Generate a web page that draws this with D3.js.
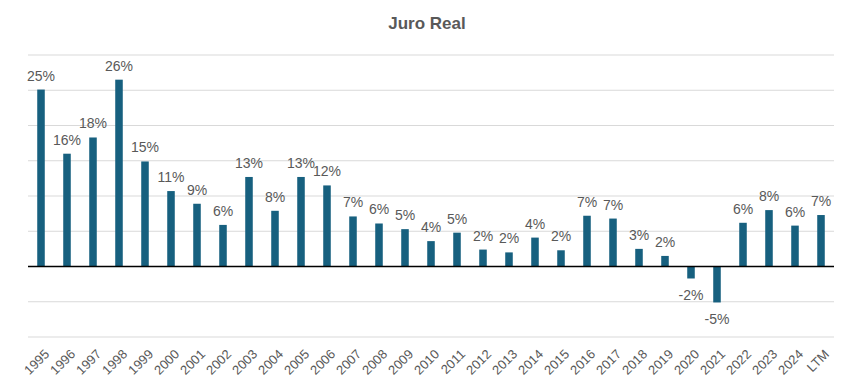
<!DOCTYPE html>
<html><head><meta charset="utf-8">
<script src="https://cdn.jsdelivr.net/npm/d3@7"></script>
<style>body{margin:0;background:#fff;}svg{display:block;font-family:"Liberation Sans",Arial,sans-serif;}</style>
</head><body>
<svg id="chart" width="854" height="391"></svg>
<script>
const title = "Juro Real";
const categories = ["1995","1996","1997","1998","1999","2000","2001","2002","2003","2004","2005","2006","2007","2008","2009","2010","2011","2012","2013","2014","2015","2016","2017","2018","2019","2020","2021","2022","2023","2024","LTM"];
const values = [25.1,16.0,18.3,26.5,14.9,10.7,8.9,5.9,12.7,7.9,12.7,11.5,7.1,6.1,5.3,3.6,4.8,2.4,2.0,4.1,2.3,7.2,6.8,2.5,1.5,-1.7,-5.1,6.2,8.0,5.8,7.3];
const labels = ["25%","16%","18%","26%","15%","11%","9%","6%","13%","8%","13%","12%","7%","6%","5%","4%","5%","2%","2%","4%","2%","7%","7%","3%","2%","-2%","-5%","6%","8%","6%","7%"];
const gridTicks = [-10,-5,0,5,10,15,20,25,30];

const svg = d3.select("#chart");
const x = d3.scaleBand().domain(categories).range([28, 834]).paddingInner(0.71).paddingOuter(0.355);
const y = d3.scaleLinear().domain([-10, 30]).range([337, 55]);

svg.append("text").attr("x", 427).attr("y", 29).attr("text-anchor","middle")
  .attr("font-size", 17).attr("font-weight","bold").attr("fill","#595959").text(title);

svg.append("g").selectAll("line").data(gridTicks.filter(d=>d!==0)).join("line")
  .attr("x1",28).attr("x2",834).attr("y1",d=>y(d)).attr("y2",d=>y(d))
  .attr("stroke","#d9d9d9").attr("stroke-width",1.2);

svg.append("g").selectAll("rect").data(values).join("rect")
  .attr("x",(d,i)=>x(categories[i])).attr("width",x.bandwidth())
  .attr("y",d=>y(Math.max(0,d))).attr("height",d=>Math.abs(y(d)-y(0)))
  .attr("fill","#17607f");

svg.append("line").attr("x1",28).attr("x2",834).attr("y1",y(0)).attr("y2",y(0))
  .attr("stroke","#000").attr("stroke-width",1.5);

svg.append("g").selectAll("text").data(values).join("text")
  .attr("x",(d,i)=>x(categories[i])+x.bandwidth()/2)
  .attr("y",d=> d>=0 ? y(d)-9 : y(d)+22)
  .attr("text-anchor","middle").attr("font-size",14).attr("fill","#595959")
  .text((d,i)=>labels[i]);

const xAxis = d3.axisBottom(x).tickSize(0).tickPadding(0);
const gx = svg.append("g").attr("transform","translate(0,349)").call(xAxis);
gx.select(".domain").remove();
gx.selectAll("text").attr("font-size",13).attr("fill","#595959")
  .attr("font-family","'Liberation Sans',Arial,sans-serif")
  .attr("text-anchor","end").attr("dy",null).attr("y",0)
  .attr("transform","translate(9,6) rotate(-45)");
</script>
</body></html>
